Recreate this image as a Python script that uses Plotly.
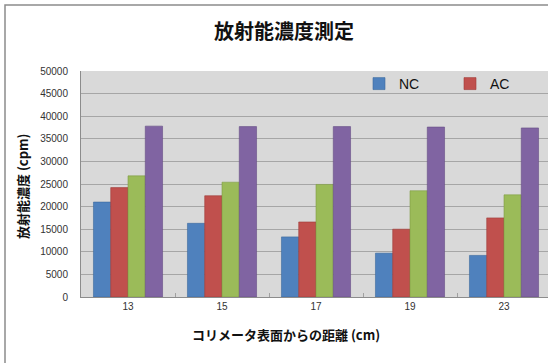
import plotly.graph_objects as go

# distance from collimator surface (cm)
distances = ["13", "15", "17", "19", "23"]

# activity concentration (cpm) per series
nc = [21000, 16300, 13300, 9700, 9200]
ac = [24200, 22400, 16600, 15000, 17500]
series3 = [26800, 25400, 24900, 23500, 22600]
series4 = [37800, 37700, 37700, 37600, 37400]

y_ticks = list(range(0, 50001, 5000))

W, H = 548, 363
ML, MR, MT, MB = 81, 0, 71, 66
PW, PH = W - ML - MR, H - MT - MB


def px_x(px):
    return (px - ML) / PW


def px_y(py):
    return (H - MB - py) / PH


fig = go.Figure()
bar_specs = [
    ("NC", nc, "#4f81bd", "#3c6a9e", True),
    ("AC", ac, "#c0504d", "#9e3a38", True),
    ("系列3", series3, "#9bbb59", "#7f9c45", False),
    ("系列4", series4, "#8064a2", "#654d85", False),
]
for name, vals, color, edge, show in bar_specs:
    fig.add_trace(go.Bar(
        x=distances, y=vals, name=name, showlegend=show,
        marker=dict(color=color, line=dict(color=edge, width=0.6)),
    ))

jp = "Noto Sans CJK JP"

fig.update_layout(
    width=W, height=H,
    margin=dict(l=ML, r=MR, t=MT, b=MB, pad=0, autoexpand=False),
    paper_bgcolor="white",
    plot_bgcolor="#d9d9d9",
    barmode="group",
    bargap=0.265,
    bargroupgap=0,
    font=dict(family="Liberation Sans", color="#333333"),
    legend=dict(
        orientation="h", x=px_x(359), y=px_y(84), xanchor="left", yanchor="middle",
        bgcolor="rgba(0,0,0,0)", font=dict(size=14, family="Liberation Sans", color="#111111"),
        entrywidth=46, entrywidthmode="pixels", itemwidth=30,
    ),
    xaxis=dict(
        type="category", range=[-0.5, 4.5 - 3 / 94],
        showline=True, linecolor="#8c8c8c", linewidth=1,
        ticks="inside", tickson="boundaries", ticklen=4, tickcolor="#a0a0a0",
        tickfont=dict(size=10, color="#333333"),
        showgrid=False,
    ),
    yaxis=dict(
        range=[0, 50000], tickvals=y_ticks, tickformat="d",
        showline=True, linecolor="#8c8c8c", linewidth=1,
        gridcolor="#a6a6a6", gridwidth=1,
        ticks="", ticklabelstandoff=10,
        tickfont=dict(size=10, color="#333333"),
        zeroline=False,
    ),
    showlegend=True,
)

# chart frame
fig.add_shape(type="rect", xref="paper", yref="paper",
              x0=px_x(5), x1=px_x(W + 20), y0=px_y(H + 20), y1=px_y(5),
              line=dict(color="#8c8c8c", width=1.5), fillcolor="rgba(0,0,0,0)", layer="above")

fig.add_annotation(text="<b>放射能濃度測定</b>", xref="paper", yref="paper",
                   x=px_x(284), y=px_y(30), xanchor="center", yanchor="middle",
                   showarrow=False, font=dict(size=20, family=jp, color="#111111"))
fig.add_annotation(text="<b>コリメータ表面からの距離 (cm)</b>", xref="paper", yref="paper",
                   x=px_x(286), y=px_y(334), xanchor="center", yanchor="middle",
                   showarrow=False, font=dict(size=13, family=jp, color="#111111"))
fig.add_annotation(text="<b>放射能濃度 (cpm)</b>", xref="paper", yref="paper",
                   x=px_x(22), y=px_y(186), xanchor="center", yanchor="middle",
                   showarrow=False, textangle=-90,
                   font=dict(size=13, family=jp, color="#111111"))

fig.write_html("out.html")
